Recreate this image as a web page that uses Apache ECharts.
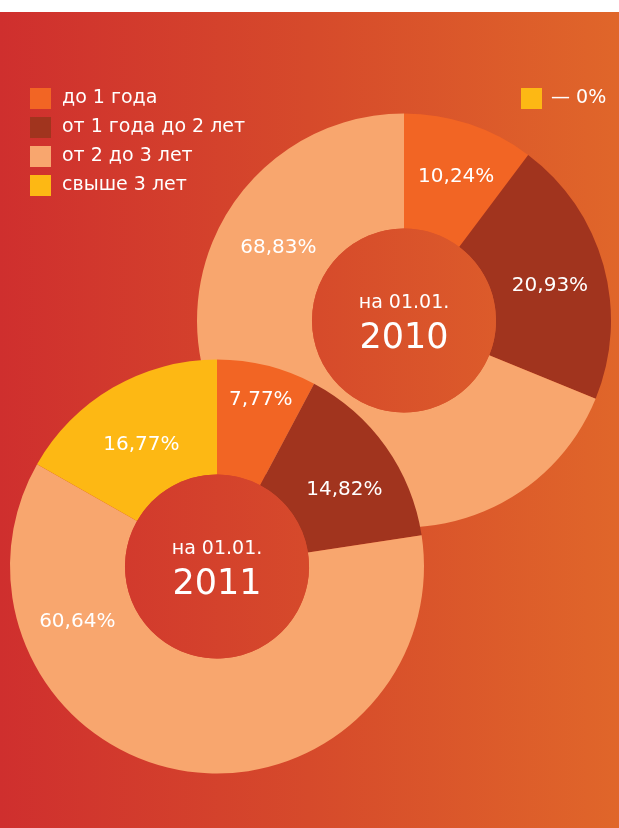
<!DOCTYPE html>
<html>
<head>
<meta charset="utf-8">
<script src="https://cdn.jsdelivr.net/npm/echarts@6/dist/echarts.min.js"></script>
<style>
  html, body { margin: 0; padding: 0; background: #fff; }
  #chart { position: absolute; left: 0; top: 12px; width: 619px; height: 816px; }
</style>
</head>
<body>
<div id="chart"></div>
<script>
// категории сроков
const categories = ['до 1 года', 'от 1 года до 2 лет', 'от 2 до 3 лет', 'свыше 3 лет'];
// доли, %
const values2010 = [10.24, 20.93, 68.83, 0];
const values2011 = [7.77, 14.82, 60.64, 16.77];
const years = ['2010', '2011'];
const datePrefix = 'на 01.01.';

const sliceColors = ['#F26524', '#A1341E', '#F8A66E', '#FDB814'];
const FONT = '"DejaVu Sans", sans-serif';

const chart = echarts.init(document.getElementById('chart'));

const bgStops = [
  { offset: 0, color: '#CF2F2E' },
  { offset: 0.5, color: '#D64A2B' },
  { offset: 1, color: '#E0662A' }
];
const bgGlobal = { type: 'linear', x: 0, y: 0, x2: 619, y2: 0, global: true, colorStops: bgStops };

const fmtPct = v => v.toFixed(2).replace('.', ',') + '%';

// подгонка подписей (часть перекрыта вторым кольцом)
const labelShift = {
  '2010|до 1 года': [4, 1],
  '2010|от 1 года до 2 лет': [-1, 6],
  '2010|от 2 до 3 лет': [1, -158],
  '2011|до 1 года': [7, -19],
  '2011|от 1 года до 2 лет': [3, 12],
  '2011|от 2 до 3 лет': [-112, -95],
  '2011|свыше 3 лет': [1, 10]
};

function ring(year, values, center, z) {
  return {
    type: 'pie',
    name: year,
    z: z,
    center: center,
    radius: [92, 207],
    startAngle: 90,
    clockwise: true,
    animation: false,
    emphasis: { scale: false },
    data: categories.map((name, i) => ({
      name: name,
      value: values[i],
      itemStyle: { color: sliceColors[i] }
    })),
    label: {
      show: true,
      position: 'inside',
      color: '#fff',
      fontFamily: FONT,
      fontSize: 20,
      formatter: p => p.value > 0 ? fmtPct(p.value) : ''
    },
    labelLine: { show: false },
    labelLayout: function (params) {
      const s = labelShift[year + '|' + categories[params.dataIndex]];
      return s ? { dx: s[0], dy: s[1] } : {};
    }
  };
}

function hole(year, center, z) {
  return {
    type: 'pie',
    z: z,
    silent: true,
    center: center,
    radius: [0, 92],
    animation: false,
    legendHoverLink: false,
    data: [{ name: 'hole' + year, value: 1, itemStyle: { color: bgGlobal } }],
    label: {
      show: true,
      position: 'center',
      padding: [6, 0, 0, 0],
      formatter: '{a|' + datePrefix + '}\n{b|' + year + '}',
      rich: {
        a: { color: '#fff', fontFamily: FONT, fontSize: 19, lineHeight: 30 },
        b: { color: '#fff', fontFamily: FONT, fontSize: 35, lineHeight: 40 }
      }
    },
    labelLine: { show: false }
  };
}

const option = {
  animation: false,
  backgroundColor: { type: 'linear', x: 0, y: 0, x2: 1, y2: 0, colorStops: bgStops },
  legend: [
    {
      data: categories,
      orient: 'vertical',
      left: 30,
      top: 76,
      icon: 'rect',
      itemWidth: 21,
      itemHeight: 21,
      itemGap: 8,
      padding: 0,
      textStyle: { color: '#fff', fontFamily: FONT, fontSize: 19, padding: [0, 0, 0, 6] }
    },
    {
      data: [categories[3]],
      left: 521,
      top: 76,
      icon: 'rect',
      itemWidth: 21,
      itemHeight: 21,
      padding: 0,
      formatter: () => '— ' + values2010[3] + '%',
      textStyle: { color: '#fff', fontFamily: FONT, fontSize: 19, padding: [0, 0, 0, 4] }
    }
  ],
  series: [
    ring(years[0], values2010, [404, 308.5], 2),
    hole(years[0], [404, 308.5], 3),
    ring(years[1], values2011, [217, 554.5], 4),
    hole(years[1], [217, 554.5], 5)
  ]
};

chart.setOption(option);
</script>
</body>
</html>
